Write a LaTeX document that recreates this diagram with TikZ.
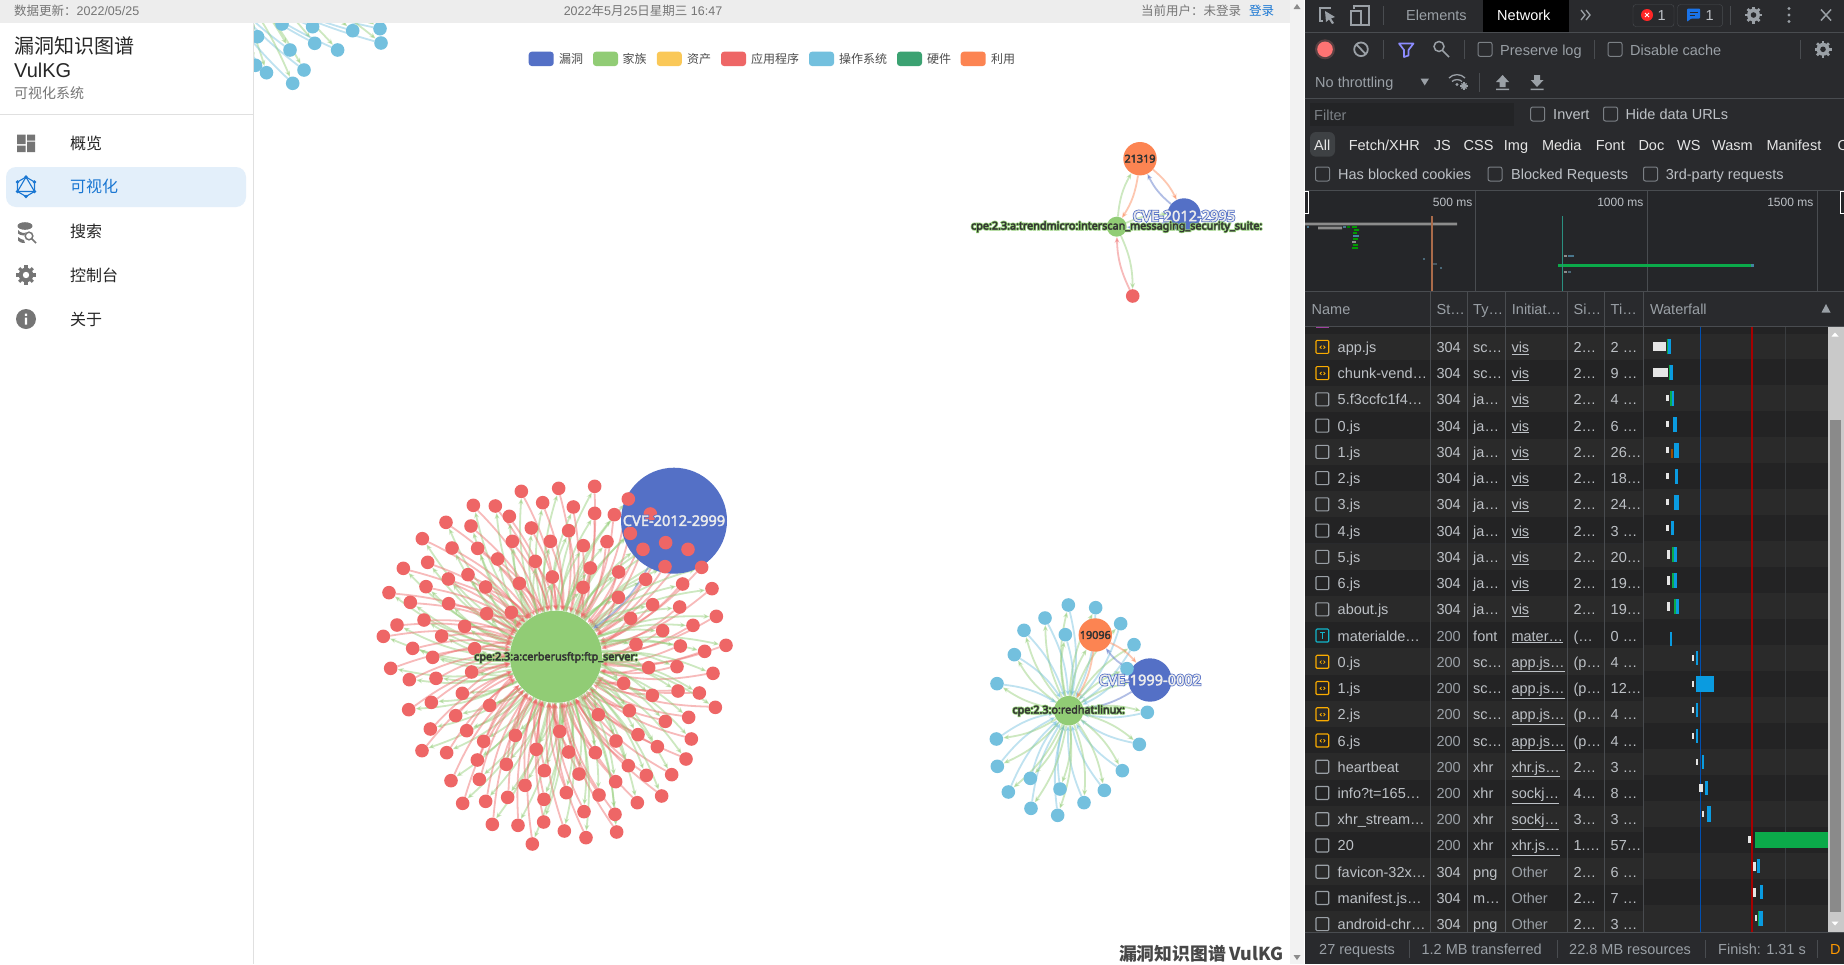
\documentclass[tikz,border=0pt]{standalone}
\usepackage{fontspec}
\setmainfont{Liberation Sans}
\newfontfamily\cjk{Noto Sans CJK SC}
\newfontfamily\lblfont{Noto Sans}
\usetikzlibrary{arrows.meta, positioning, calc}
\pgfdeclarelayer{back}
\pgfdeclarelayer{edges}
\pgfsetlayers{back,edges,main}
% echarts palette
\definecolor{vulblue}{HTML}{5470C6}
\definecolor{famgreen}{HTML}{91CC75}
\definecolor{assetyel}{HTML}{FAC858}
\definecolor{appred}{HTML}{EE6666}
\definecolor{oscyan}{HTML}{73C0DE}
\definecolor{hwgreen}{HTML}{3BA272}
\definecolor{expor}{HTML}{FC8452}
% devtools colours
\definecolor{dtbg}{HTML}{292A2D}
\definecolor{dtline}{HTML}{494C50}
\definecolor{dttext}{HTML}{BDC1C6}
\definecolor{dtdim}{HTML}{9AA0A6}
\definecolor{rowa}{HTML}{2A2A2A}
\definecolor{rowb}{HTML}{232324}
\definecolor{wfblue}{HTML}{0A9BE0}
\definecolor{wfgreen}{HTML}{0BAA4A}
\definecolor{uigrey}{HTML}{757575}
\definecolor{uiblue}{HTML}{1976D2}
\tikzset{
    gnode/.style={circle, inner sep=0pt, minimum size=13.6pt},
    link/.style={-{Stealth[length=6pt,width=5pt]}, line width=1.8pt, opacity=.45, bend left=12},
    sidetxt/.style={anchor=west, inner sep=0pt, font=\cjk\fontsize{16}{18}\selectfont, text=black!85},
    toptxt/.style={inner sep=0pt, text=uigrey, font=\fontsize{12.5}{14}\selectfont},
    dttxt/.style={anchor=west, inner sep=0pt, text=dttext, text height=13.4pt, text depth=2pt, font=\fontsize{14.5}{16}\selectfont},
    ticktxt/.style={anchor=east, inner sep=0pt, text=dttext, font=\fontsize{12}{14}\selectfont},
    chkbox/.style={draw=dtdim!80!black, line width=1pt, rounded corners=2pt},
    dtsep/.style={dtline, line width=1pt},
    cpelbl/.style={inner sep=0pt, text=black!80, font=\lblfont\bfseries\fontsize{10.8}{12}\selectfont},
    cvelbl/.style={inner sep=0pt, text=white!92!black, font=\lblfont\fontsize{14.6}{16}\selectfont},
    numlbl/.style={gnode, minimum size=33.4pt, fill=expor, text=black!80, font=\lblfont\fontsize{10.8}{12}\selectfont},
}
% label with an outline behind the letters
\newcommand\halotext[3]{\rlap{\special{pdf:code 2 Tr 2 w #1 RG}#3\special{pdf:code 0 Tr 0.4 w}}\special{pdf:code 2 Tr 0.35 w #2 RG}#3\special{pdf:code 0 Tr 0.4 w}}
\newcommand\halogreen[1]{\halotext{0.57 0.8 0.46}{0.2 0.2 0.2}{#1}}
\newcommand\haloblue[1]{\halotext{0.33 0.44 0.78}{0.93 0.93 0.93}{#1}}
\newcommand\thicknum[1]{\special{pdf:code 2 Tr 0.35 w 0.2 0.2 0.2 RG}#1\special{pdf:code 0 Tr 0.4 w}}
\newcommand\gearicon[4]{%
    \foreach \a in {0,45,...,315} {
        \draw[#3, line width=0.32*#4 pt] ({#1+0.6*#4*cos(\a)},{#2+0.6*#4*sin(\a)}) -- ({#1+#4*cos(\a)},{#2+#4*sin(\a)});
    }
    \fill[#3] (#1,#2) circle (0.76*#4);
}
\begin{document}
\begin{tikzpicture}[x=1pt, y=-1pt]
\useasboundingbox (0,0) rectangle (1844,964);
% page
\begin{pgfonlayer}{back}
    \fill[white] (0,0) rectangle (1304,964);
\end{pgfonlayer}

% graph: cluster cut by the top edge
\coordinate (hubtl) at (200,-50);
\begin{scope}
    \clip (254,23) rectangle (500,110);
    \foreach \x/\y [count=\i] in {257.5/36.7,282/24,312.6/26.7,352.7/30.7,380/28.7,381/43,314.7/43.3,337.6/50,290/50,304/70,266.5/72.7,292.7/83.3,255.5/65.3} {
        \node[gnode, fill=oscyan] (tl\i) at (\x,\y) {};
    }
\end{scope}
\begin{pgfonlayer}{edges}
\begin{scope}
    \clip (254,23) rectangle (500,110);
    \foreach \i in {1,...,13} {
        \draw[link, famgreen] (hubtl) to (tl\i);
        \draw[link, oscyan] (tl\i) to (hubtl);
    }
\end{scope}
\end{pgfonlayer}

% graph: ftp server cluster
\node[circle, inner sep=0pt, minimum size=106pt, fill=vulblue] (cvemain) at (674,520.7) {};
\node[circle, inner sep=0pt, minimum size=92pt, fill=famgreen] (hubmain) at (556,656.7) {};
\foreach \x/\y [count=\i] in {484/94,596/85,704/79,805/117,871/162,340/136,406/138,448/169,548/128,640/141,704/160,763/164,811/220,849/268,917/248,984/268,915/320,1025/322,
    258/187,333/198,514/204,626/212,571/244,457/244,670/257,741/245,187/236,276/264,353/265,413/297,526/304,691/324,776/336,857/358,968/372,1056/386,
    130/325,203/307,265/357,324/344,377/381,478/370,577/351,669/382,775/412,878/434,959/441,1069/469,87/398,198/380,151/427,266/431,380/461,454/457,812/475,999/496,908/512,
    111/495,192/480,70/529,245/528,314/499,158/565,344/566,218/592,828/553,961/558,1034/574,1098/556,92/625,148/659,228/655,335/636,866/623,951/620,1059/640,
    146/749,214/727,307/700,389/736,791/670,877/706,954/693,1018/699,1066/742,211/807,287/767,320/812,715/764,808/752,916/784,986/772,
    186/872,260/878,371/844,466/826,599/814,834/824,768/843,892/860,994/837,978/897,352/900,529/868,626/876,706/878,805/917,859/946,935/944,
    273/962,358/958,439/913,553/932,657/942,767/965,905/1008,308/1030,377/1024,443/1012,495/976,552/1018,619/998,717/1005,832/1028,
    397/1093,474/1096,551/1086,613/1113,672/1055,765/1063,770/1116,678/1133,517/1152} {
    \node[gnode, fill=appred] (m\i) at ({360+\x/3},{460+\y/3}) {};
}
\begin{pgfonlayer}{edges}
    \foreach \i in {1,...,133} {
        \draw[link, famgreen] (hubmain) to (m\i);
        \draw[link, appred] (m\i) to (hubmain);
    }
    \draw[link, famgreen] (hubmain) to (cvemain);
    \draw[link, vulblue] (cvemain) to (hubmain);
\end{pgfonlayer}
\node[cvelbl] (cvemainlbl) at (cvemain) {\haloblue{CVE-2012-2999}};
\node[cpelbl] (hubmainlbl) at (556,657.5) {\halogreen{cpe:2.3:a:cerberusftp:ftp\_server:}};

% graph: trendmicro cluster
\node[gnode, minimum size=33.4pt, fill=vulblue] (cvetm) at (1184,215) {};
\node[numlbl] (exptm) at (1140,158.7) {\thicknum{21319}};
\node[gnode, minimum size=20pt, fill=famgreen] (hubtm) at (1116.7,226.7) {};
\node[gnode, fill=appred] (apptm) at (1132.7,296) {};
\begin{pgfonlayer}{edges}
    \draw[link, vulblue] (cvetm) to (exptm);
    \draw[link, expor] (exptm) to (cvetm);
    \draw[link, expor] (exptm) to (hubtm);
    \draw[link, famgreen] (hubtm) to (exptm);
    \draw[link, appred] (apptm) to (hubtm);
    \draw[link, famgreen] (hubtm) to (apptm);
    \draw[link, vulblue] (cvetm) to (hubtm);
    \draw[link, famgreen] (hubtm) to (cvetm);
\end{pgfonlayer}
\node[cvelbl] (cvetmlbl) at (1184,216) {\haloblue{CVE-2012-2995}};
\node[cpelbl] (hubtmlbl) at (1116.7,226.7) {\halogreen{cpe:2.3:a:trendmicro:interscan\_messaging\_security\_suite:}};

% graph: redhat cluster
\node[gnode, minimum size=43.4pt, fill=vulblue] (cverh) at (1150,680) {};
\node[gnode, minimum size=29.4pt, fill=famgreen] (hubrh) at (1068.7,710.7) {};
\node[numlbl] (exprh) at (1095.3,635) {\thicknum{19096}};
\foreach \x/\y [count=\i] in {295/75,377/83,452/131,492/194,225/114,162/151,286/164,133/224,81/311,471/266,532/397,508/493,457/572,403/631,342/668,270/627,263/706,183/685,181/595,115/636,82/559,79/477} {
    \node[gnode, fill=oscyan] (rh\i) at ({970+\x/3},{580+\y/3}) {};
}
\begin{pgfonlayer}{edges}
    \foreach \i in {1,...,22} {
        \draw[link, famgreen] (hubrh) to (rh\i);
        \draw[link, oscyan] (rh\i) to (hubrh);
    }
    \draw[link, vulblue] (cverh) to (exprh);
    \draw[link, expor] (exprh) to (cverh);
    \draw[link, expor] (exprh) to (hubrh);
    \draw[link, famgreen] (hubrh) to (exprh);
    \draw[link, vulblue] (cverh) to (hubrh);
    \draw[link, famgreen] (hubrh) to (cverh);
\end{pgfonlayer}
\node[cvelbl] (cverhlbl) at (cverh) {\haloblue{CVE-1999-0002}};
\node[cpelbl] (hubrhlbl) at (hubrh) {\halogreen{cpe:2.3:o:redhat:linux:}};

% top bar
\fill[black!7] (0,0) rectangle (1290,23);
\node[toptxt, anchor=west] (updated) at (14,11) {{\cjk 数据更新：}2022/05/25};
\node[toptxt] (clock) at (643,11) {2022{\cjk 年}5{\cjk 月}25{\cjk 日星期三} 16:47};
\node[toptxt, anchor=west] (userinfo) at (1141,11) {\cjk 当前用户：未登录};
\node[toptxt, anchor=west, text=uiblue] (login) at (1249,11) {\cjk 登录};

% sidebar
\draw[black!12] (253.5,23) -- (253.5,964);
\draw[black!12] (0,114.5) -- (253.5,114.5);
\node[anchor=west, inner sep=0pt, font=\cjk\fontsize{20}{22}\selectfont, text=black!85] (titlecn) at (14,46) {漏洞知识图谱};
\node[anchor=west, inner sep=0pt, font=\fontsize{20}{22}\selectfont, text=black!85] (titleen) at (14,70.5) {VulKG};
\node[anchor=west, inner sep=0pt, font=\cjk\fontsize{14}{16}\selectfont, text=uigrey] (subtitle) at (14,93) {可视化系统};
\fill[uiblue!12, rounded corners=10pt] (6,167) rectangle (246,207);
\foreach \lab/\yy [count=\i] in {概览/143,搜索/231,控制台/275,关于/319} {
    \node[sidetxt] (menu\i) at (70,\yy) {\lab};
}
\node[sidetxt, text=uiblue] (menuvis) at (70,186.7) {可视化};
% sidebar icons
\fill[uigrey] (17,134.5) rectangle (25.5,144) (27,134.5) rectangle (35,140.5) (17,145.5) rectangle (25.5,152) (27,141.5) rectangle (35,152);
\draw[uiblue, line width=1.1pt] (26,177) -- (34.5,182) -- (34.5,191.5) -- (26,196.5) -- (17.5,191.5) -- (17.5,182) -- cycle;
\draw[uiblue, line width=1.1pt] (26,177) -- (34.5,191.5) -- (17.5,191.5) -- cycle;
\foreach \x/\y in {26/177,34.5/182,34.5/191.5,26/196.5,17.5/191.5,17.5/182} { \fill[uiblue] (\x,\y) circle (1.8); }
\fill[uigrey] (25,226) ellipse (7.5 and 3.8);
\fill[uigrey] (18,230) .. controls (20,233) and (25,233.5) .. (26,232.5) -- (24,235.5) .. controls (21,235.5) and (19,234.5) .. (18,233.5) -- cycle;
\fill[uigrey] (18,237) .. controls (20,239) and (22,239.5) .. (24,240) -- (25,243) .. controls (21,243) and (19,242) .. (18,240.5) -- cycle;
\draw[uigrey, line width=1.5pt] (29,236) circle (3.8) (32,239) -- (36,243);
\gearicon{26}{275}{uigrey}{9.6}
\fill[white] (26,275) circle (3.2);
\fill[uigrey] (26,319) circle (10);
\fill[white] (24.9,317.5) rectangle (27.1,324.5) (24.9,313.5) rectangle (27.1,315.8);

% legend
\foreach \x/\col/\lab/\tx [count=\i] in {528.7/vulblue/漏洞/559,593/famgreen/家族/622.3,656.8/assetyel/资产/687,721/appred/应用程序/751,809/oscyan/操作系统/838.8,897/hwgreen/硬件/927,960.7/expor/利用/991} {
    \fill[\col, rounded corners=3pt] (\x,51.7) rectangle ++(25,14.3);
    \node[anchor=west, inner sep=0pt, text=black!70, font=\cjk\fontsize{12}{14}\selectfont] (legend\i) at (\tx,59) {\lab};
}

% footer, scrollbar
\node[anchor=east, inner sep=0pt, text=black!72, font=\cjk\bfseries\fontsize{17.8}{20}\selectfont] (footer) at (1283.5,954) {漏洞知识图谱 VulKG};
\fill[black!5] (1290,0) rectangle (1304,964);
\fill[black!45] (1297,4) -- (1300.5,9) -- (1293.5,9) -- cycle;
\fill[black!45] (1297,960) -- (1300.5,955) -- (1293.5,955) -- cycle;

% devtools: toolbars
\fill[dtbg] (1304.5,0) rectangle (1844,964);
\fill[black] (1483,0) rectangle (1569,32);
\draw[dtsep] (1304.5,32) -- (1844,32) (1304.5,98) -- (1844,98) (1304.5,190.7) -- (1844,190.7);
\draw[dtsep] (1383,6) -- (1383,25) (1730,6) -- (1730,25) (1383,40) -- (1383,59) (1464.5,40) -- (1464.5,59) (1594,40) -- (1594,59) (1800,40) -- (1800,59) (1479,73) -- (1479,92);
\draw[dtdim, line width=1.1pt] (1331,8) -- (1320,8) -- (1320,21) -- (1323,21);
\fill[dtdim] (1325,11) -- (1335,17) -- (1331,18.5) -- (1334,23) -- (1332,24) -- (1329,19.5) -- (1326,22) -- cycle;
\draw[dtdim, line width=1.2pt] (1354,9) -- (1354,6) -- (1369,6) -- (1369,25) -- (1362,25) (1351,11) rectangle (1361,25);
\node[dttxt, text=dtdim] (tabelements) at (1406,15) {Elements};
\node[dttxt, text=white] (tabnetwork) at (1497,15) {Network};
\draw[dtdim, line width=1.3pt] (1581,10) -- (1585,15) -- (1581,20) (1586,10) -- (1590,15) -- (1586,20);
\draw[dtline, rounded corners=3pt] (1633,4.5) rectangle (1674,26.5) (1677.5,4.5) rectangle (1722.6,26.5);
\fill[red!85!white] (1647,15) circle (6);
\draw[white, line width=1pt] (1645,13) -- (1649,17) (1649,13) -- (1645,17);
\node[dttxt] (errcount) at (1657.5,15) {1};
\definecolor{msgblue}{HTML}{1A73E8}
\fill[msgblue, rounded corners=1pt] (1687,8.5) -- (1700,8.5) -- (1700,18.5) -- (1691,18.5) -- (1687,22) -- cycle;
\draw[dtbg, line width=1pt] (1689.5,12) -- (1697.5,12) (1689.5,15) -- (1695,15);
\node[dttxt] (msgcount) at (1705.5,15) {1};
\gearicon{1753.5}{15}{dtdim}{8.5}
\fill[dtbg] (1753.5,15) circle (2.8);
\fill[dtdim] (1789,8.5) circle (1.6) (1789,15) circle (1.6) (1789,21.5) circle (1.6);
\draw[dtdim, line width=1.5pt] (1821,9.5) -- (1831,20.5) (1831,9.5) -- (1821,20.5);

\fill[red!40!white!70!black, opacity=.35] (1325,49.3) circle (10);
\fill[red!55!white] (1325,49.3) circle (7.8);
\draw[dtdim, line width=1.8pt] (1361,49.3) circle (6.8) (1356.5,44.5) -- (1365.5,54);
\draw[blue!45!white, line width=1.7pt, line join=round] (1399,43.5) -- (1413.5,43.5) -- (1408.5,50) -- (1408.5,55.5) -- (1404,57) -- (1404,50) -- cycle;
\draw[dtdim, line width=1.5pt] (1439,46.5) circle (5) (1442.5,50.5) -- (1449,57);
\draw[chkbox] (1478,42.3) rectangle ++(14,14);
\node[dttxt, text=dtdim] (preserve) at (1500,49.3) {Preserve log};
\draw[chkbox] (1608,42.3) rectangle ++(14,14);
\node[dttxt, text=dtdim] (disable) at (1630,49.3) {Disable cache};
\gearicon{1823}{49.3}{dtdim}{8.5}
\fill[dtbg] (1823,49.3) circle (2.8);

\node[dttxt, text=dtdim] (throttle) at (1315,82) {No throttling};
\fill[dtdim] (1420.5,78.5) -- (1429,78.5) -- (1424.7,85.5) -- cycle;
\draw[dtdim, line width=1.3pt] (1449,78) .. controls (1453,73.5) and (1461,73.5) .. (1465,78) (1452,81.5) .. controls (1454.5,79) and (1459.5,79) .. (1462,81.5);
\fill[dtdim] (1457,84.5) circle (1.6);
\gearicon{1464}{86}{dtdim}{3.6}
\fill[dtdim] (1502.6,75) -- (1509,82) -- (1505.5,82) -- (1505.5,87) -- (1499.7,87) -- (1499.7,82) -- (1496,82) -- cycle (1496,88.5) rectangle (1509,90);
\fill[dtdim] (1537,87) -- (1530.7,80) -- (1534.2,80) -- (1534.2,75) -- (1540,75) -- (1540,80) -- (1543.5,80) -- cycle (1530.7,88.5) rectangle (1543.5,90);

\fill[black!15!dtbg] (1310,102.7) rectangle (1514,126);
\node[dttxt, text=dtdim!80!black] (filterbox) at (1314,114.5) {Filter};
\draw[chkbox] (1530.7,107) rectangle ++(14,14);
\node[dttxt] (invert) at (1553,114) {Invert};
\draw[chkbox] (1603.5,107) rectangle ++(14,14);
\node[dttxt] (hidedata) at (1625.5,114) {Hide data URLs};

\fill[dtline!85!black, rounded corners=6pt] (1310,132) rectangle (1335,156.7);
\foreach \lab/\x [count=\i] in {All/1314,{Fetch/XHR}/1348.6,JS/1433.6,CSS/1463.4,Img/1503.7,Media/1541.8,Font/1595.6,Doc/1638.3,WS/1677,Wasm/1711.9,Manifest/1766.3} {
    \node[dttxt, text=black!10] (kind\i) at (\x,144.7) {\lab};
}
\begin{scope}
    \clip (1830,130) rectangle (1844,160);
    \node[dttxt, text=black!10] (kindother) at (1837.5,144.7) {Other};
\end{scope}
\foreach \x/\tx/\lab [count=\i] in {1315.5/1338/Has blocked cookies,1488/1511/Blocked Requests,1643.5/1665.7/3rd-party requests} {
    \draw[chkbox] (\x,167) rectangle ++(14,14);
    \node[dttxt] (blocked\i) at (\tx,174) {\lab};
}

% devtools: overview
\fill[dtbg!90!black] (1305,191.2) rectangle (1844,290.5);
\draw[dtsep] (1475,190.7) -- (1475,291) (1647,190.7) -- (1647,291) (1817,190.7) -- (1817,291);
\node[ticktxt] (t500) at (1472.5,202.7) {500 ms};
\node[ticktxt] (t1000) at (1643.5,202.7) {1000 ms};
\node[ticktxt] (t1500) at (1813.5,202.7) {1500 ms};
\draw[white, line width=1pt] (1304.5,191) -- (1308,191) -- (1308,213) -- (1304.5,213) (1844,191) -- (1840.5,191) -- (1840.5,213) -- (1844,213);
\fill[black!45] (1305,222.7) rectangle (1457,225.3) (1318,226.7) rectangle (1342,229.3);
\foreach \x/\y/\w/\col in {1352/226/5/green!60!black,1354/229/5/green!60!black,1353/232/4/green!60!black,1353/235/6/cyan!60!black,1353/238/5/green!60!black,1352/241/4/black!45,1353/244/5/green!60!black,1352/247/6/green!60!black,1307/226/2/cyan!50!black,1343/226/3/cyan!50!black,1347/226/3/green!50!black,1423/258/1.5/cyan!40!black,1433/263/4/cyan!30!black,1440/267/1.5/cyan!40!black,1564/255/3/black!45,1568/255/6/cyan!50!black,1564/271/3/black!45,1568/271/3/cyan!40!black} {
    \fill[\col] (\x,\y) rectangle ++(\w,2.2);
}
\definecolor{markorange}{HTML}{AA6B4A}
\definecolor{markteal}{HTML}{2A9080}
\draw[markorange, line width=1.4pt] (1432,216) -- (1432,291);
\fill[wfgreen] (1557.5,264) rectangle (1751,267);
\fill[cyan!60!black] (1751,264) rectangle (1754,267);
\draw[markteal, line width=1.4pt] (1562.3,216) -- (1562.3,291);

% devtools: request table
\fill[dtbg] (1304.5,291) rectangle (1844,326);
\foreach \i in {0,...,22} {
    \pgfmathsetmacro\ry{346.7+26.24*\i}
    \pgfmathsetmacro\wy{346+26*\i}
    \pgfmathparse{int(mod(\i,2))}
    \ifnum\pgfmathresult=0 \def\rc{rowa}\else\def\rc{rowb}\fi
    \fill[\rc] (1304.5,\ry-13.1) rectangle (1643.5,\ry+13.1);
    \fill[\rc] (1643.5,\wy-13) rectangle (1828,\wy+13);
}
\fill[rowb] (1304.5,326) rectangle (1828,333.5);
\fill[dtbg] (1304.5,932) rectangle (1844,964);
\fill[black!21] (1828,326) rectangle (1844,932);
\fill[black!46] (1830,420) rectangle (1840.6,912);
\fill[white] (1835,332.5) -- (1838.5,336.5) -- (1831.5,336.5) -- cycle (1835,925.5) -- (1838.5,921.5) -- (1831.5,921.5) -- cycle;
% waterfall guides
\draw[blue!55!cyan!70!black, line width=1.2pt] (1700.4,326) -- (1700.4,932);
\draw[red!65!black, line width=1.2pt] (1752,326) -- (1752,932);
\draw[dtline!80!black, line width=1pt] (1785.8,326) -- (1785.8,932);
% top row cut by the header
\fill[violet!75!white] (1316,326) rectangle (1328.5,327.5);
\fill[black!45] (1511.5,326) rectangle (1530,327);
% waterfall bars
\foreach \i/\wa/\wb/\wh/\ba/\bb/\hh in {0/1653/1666/9/1668/1670.5/15,1/1653/1668/9/1670/1673/15,2/1666/1669/6/1670/1674/15,3/1666/1669/6/1673/1677/15,4/1666/1669/6/1674/1679/15,5/1666/1669.4/6/1674.7/1678/15,6/1666/1669/6/1674.4/1679/15,7/1666/1669/6/1671.3/1674/14,8/1667/1670/9/1671.6/1677/15,9/1667/1670/9/1671.6/1677/15,10/1667/1670/9/1674.4/1679/15,12/1691.7/1694/6/1695.6/1698/14,13/1691.7/1694/6/1695.6/1714.3/16,14/1691.7/1694/6/1695.6/1698/14,15/1691.7/1694/6/1695.6/1698/14,16/1695.6/1698.3/6/1701.5/1704/14,17/1699.4/1703/8/1705.3/1708/14,18/1701.5/1704/6/1706.7/1711/16,20/1752.8/1756/9/1757/1759.8/14,21/1752.8/1756/9/1759.8/1762.5/14,22/1754.5/1757/6/1758.7/1762.5/15} {
    \pgfmathsetmacro\wy{346+26*\i}
    \fill[black!10] (\wa,\wy-\wh/2) rectangle (\wb,\wy+\wh/2);
    \fill[wfblue] (\ba,\wy-\hh/2) rectangle (\bb,\wy+\hh/2);
}
% green receive parts in front of the blue
\foreach \i/\ga/\gb in {0/1666.5/1668,1/1669/1670,2/1670/1671.5,8/1671.6/1673.5,9/1671.6/1673.5,10/1674.4/1675.5,22/1758/1759} {
    \pgfmathsetmacro\wy{346+26*\i}
    \fill[wfgreen] (\ga,\wy-7.5) rectangle (\gb,\wy+7.5);
}
\fill[wfblue] (1669.5,632) rectangle (1671.6,646);
\fill[orange!60!black] (1670.6,449) rectangle (1673,458);
\fill[black!10] (1748,836) rectangle (1750.7,843);
\fill[wfgreen] (1754.5,832) rectangle (1828,848);
% table header
\foreach \lab/\x [count=\i] in {Name/1311.5,St…/1436.4,Ty…/1473,Initiat…/1511.7,Si…/1573.4,Ti…/1610.5,Waterfall/1649.8} {
    \node[dttxt, text=dtdim] (head\i) at (\x,309) {\lab};
}
\fill[dtdim] (1826,304) -- (1830.5,312.5) -- (1821.5,312.5) -- cycle;
\draw[dtsep] (1304.5,291) -- (1844,291) (1304.5,326) -- (1844,326);
\foreach \x in {1430.5,1467,1505.4,1567.5,1604.3,1643.5} { \draw[dtsep] (\x,291) -- (\x,932); }
% table rows
\definecolor{iconyel}{HTML}{F9AB00}
\definecolor{iconcyan}{HTML}{12B5CB}
\foreach \nm/\st/\ty/\ini/\sz/\ti/\ico [count=\r from 0] in {
    app.js/304/sc…/{\underline{vis}}/2…/2 …/script,
    chunk-vend…/304/sc…/{\underline{vis}}/2…/9 …/script,
    5.f3ccfc1f4…/304/ja…/{\underline{vis}}/2…/4 …/plain,
    0.js/304/ja…/{\underline{vis}}/2…/6 …/plain,
    1.js/304/ja…/{\underline{vis}}/2…/26…/plain,
    2.js/304/ja…/{\underline{vis}}/2…/18…/plain,
    3.js/304/ja…/{\underline{vis}}/2…/24…/plain,
    4.js/304/ja…/{\underline{vis}}/2…/3 …/plain,
    5.js/304/ja…/{\underline{vis}}/2…/20…/plain,
    6.js/304/ja…/{\underline{vis}}/2…/19…/plain,
    about.js/304/ja…/{\underline{vis}}/2…/19…/plain,
    materialde…/200/font/{\underline{mater…}}/{(…}/0 …/fontfile,
    0.js/200/sc…/{\underline{app.js…}}/{(p…}/4 …/script,
    1.js/200/sc…/{\underline{app.js…}}/{(p…}/12…/script,
    2.js/200/sc…/{\underline{app.js…}}/{(p…}/4 …/script,
    6.js/200/sc…/{\underline{app.js…}}/{(p…}/4 …/script,
    heartbeat/200/xhr/{\underline{xhr.js…}}/2…/3 …/plain,
    info?t=165…/200/xhr/{\underline{sockj…}}/4…/8 …/plain,
    xhr\_stream…/200/xhr/{\underline{sockj…}}/3…/3 …/plain,
    20/200/xhr/{\underline{xhr.js…}}/1.…/57…/plain,
    favicon-32x…/304/png/{\textcolor{dtdim}{Other}}/2…/6 …/plain,
    manifest.js…/304/m…/{\textcolor{dtdim}{Other}}/2…/7 …/plain,
    android-chr…/304/png/{\textcolor{dtdim}{Other}}/2…/3 …/plain} {
    \pgfmathsetmacro\ry{346.7+26.24*\r}
    \def\icoc{dtdim}
    \def\testa{script}\def\testb{fontfile}
    \ifx\ico\testa \def\icoc{iconyel}\fi
    \ifx\ico\testb \def\icoc{iconcyan}\fi
    \ifnum\st=200 \def\stc{dtdim}\else\def\stc{dttext}\fi
    \draw[\icoc, line width=1.1pt, rounded corners=1pt] (1316,\ry-6.3) rectangle (1328.7,\ry+6.7);
    \ifx\ico\testa \draw[\icoc, line width=.8pt] (1321.5,\ry-1) -- (1320,\ry+.5) -- (1321.5,\ry+2) (1323.5,\ry-1) -- (1325,\ry+.5) -- (1323.5,\ry+2); \fi
    \ifx\ico\testb \draw[\icoc, line width=.8pt] (1320,\ry-2.5) -- (1325,\ry-2.5) (1322.5,\ry-2.5) -- (1322.5,\ry+3.5); \fi
    \node[dttxt] (rowname\r) at (1337.5,\ry) {\nm};
    \node[dttxt, text=\stc] (rowstatus\r) at (1436.4,\ry) {\st};
    \node[dttxt] (rowtype\r) at (1473,\ry) {\ty};
    \node[dttxt] (rowinit\r) at (1511.3,\ry) {\ini};
    \node[dttxt] (rowsize\r) at (1573.4,\ry) {\sz};
    \node[dttxt] (rowtime\r) at (1610.5,\ry) {\ti};
}

% devtools: status bar
\draw[dtsep] (1304.5,932.5) -- (1844,932.5);
\foreach \lab/\x [count=\i] in {27 requests/1319,1.2 MB transferred/1421.4,22.8 MB resources/1569,Finish: 1.31 s/1718} {
    \node[dttxt, text=dtdim] (status\i) at (\x,949) {\lab};
}
\node[dttxt, text=orange!80!yellow] (statusd) at (1830,949) {D};
\draw[dtsep] (1409,940) -- (1409,958) (1557,940) -- (1557,958) (1705,940) -- (1705,958) (1817,940) -- (1817,958);
\end{tikzpicture}
\end{document}
